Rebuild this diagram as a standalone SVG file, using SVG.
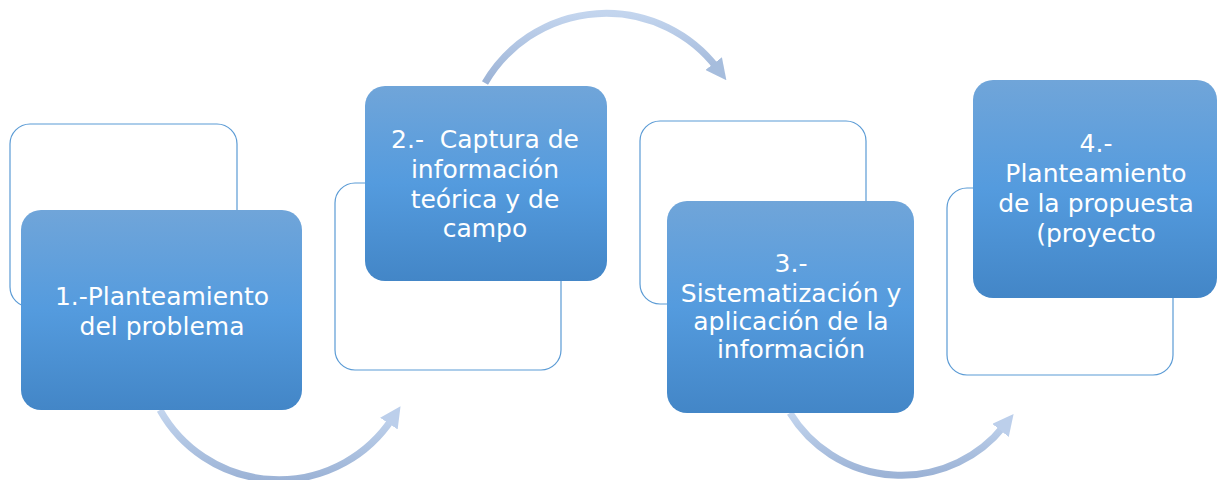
<svg xmlns="http://www.w3.org/2000/svg" width="1217" height="480" viewBox="0 0 1217 480">
<style>
.outline{fill:#ffffff;stroke:#5b9bd5;stroke-width:1.2}
.box{fill:url(#boxg)}
.lbl{font-family:"DejaVu Sans","Liberation Sans",sans-serif;font-size:25px;font-weight:normal;fill:#ffffff;text-anchor:middle}
.arc{fill:none;stroke:url(#arcg);stroke-width:7}
</style>
<defs>
<linearGradient id="boxg" x1="0" y1="0" x2="0" y2="1">
<stop offset="0" stop-color="#70a5d9"/>
<stop offset="0.5" stop-color="#549bde"/>
<stop offset="1" stop-color="#4386c7"/>
</linearGradient>
<linearGradient id="arcg" x1="0" y1="0" x2="0" y2="1">
<stop offset="0" stop-color="#c3d5ee"/>
<stop offset="1" stop-color="#9cb3d6"/>
</linearGradient>
<marker id="headL" markerWidth="3" markerHeight="3" refX="0.8" refY="1.5" orient="auto" markerUnits="strokeWidth">
<path d="M0,0 L3,1.5 L0,3 Z" fill="#bccfeb"/>
</marker>
<marker id="headD" markerWidth="3" markerHeight="3" refX="0.8" refY="1.5" orient="auto" markerUnits="strokeWidth">
<path d="M0,0 L3,1.5 L0,3 Z" fill="#a6bddd"/>
</marker>
</defs>
<g id="connectors">
<path class="arc" d="M160,410 A136,136 0 0,0 392,419" marker-end="url(#headL)"/>
<path class="arc" d="M485,83 A140,140 0 0,1 717,68" marker-end="url(#headD)"/>
<path class="arc" d="M790,413 A131,131 0 0,0 1004,426" marker-end="url(#headL)"/>
</g>
<g id="node1">
<rect class="outline" x="10" y="124" width="227" height="183" rx="20"/>
<rect class="box" x="21" y="210" width="281" height="200" rx="20"/>
<text class="lbl" x="162" y="305">1.-Planteamiento</text>
<text class="lbl" x="162" y="335">del problema</text>
</g>
<g id="node2">
<rect class="outline" x="335" y="183" width="226" height="187" rx="20"/>
<rect class="box" x="365" y="86" width="242" height="195" rx="20"/>
<text class="lbl" x="485" y="148" xml:space="preserve">2.-  Captura de</text>
<text class="lbl" x="485" y="178">información</text>
<text class="lbl" x="485" y="208">teórica y de</text>
<text class="lbl" x="485" y="237">campo</text>
</g>
<g id="node3">
<rect class="outline" x="640" y="121" width="226" height="183" rx="20"/>
<rect class="box" x="667" y="201" width="247" height="212" rx="20"/>
<text class="lbl" x="791" y="272">3.-</text>
<text class="lbl" x="791" y="302">Sistematización y</text>
<text class="lbl" x="791" y="330">aplicación de la</text>
<text class="lbl" x="791" y="358">información</text>
</g>
<g id="node4">
<rect class="outline" x="947" y="188" width="226" height="187" rx="20"/>
<rect class="box" x="973" y="80" width="244" height="218" rx="20"/>
<text class="lbl" x="1096" y="152">4.-</text>
<text class="lbl" x="1096" y="182">Planteamiento</text>
<text class="lbl" x="1096" y="212">de la propuesta</text>
<text class="lbl" x="1096" y="242">(proyecto</text>
</g>
</svg>
